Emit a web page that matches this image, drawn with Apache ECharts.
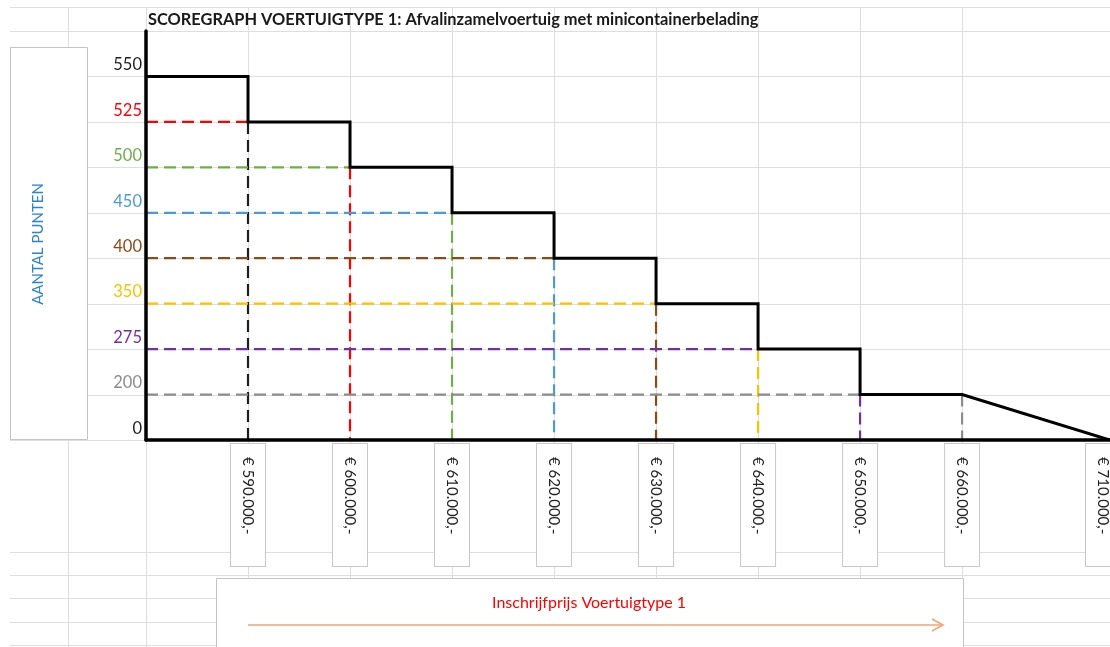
<!DOCTYPE html>
<html>
<head>
<meta charset="utf-8">
<title>Scoregraph voertuigtype 1</title>
<script src="https://cdn.jsdelivr.net/npm/echarts@6/dist/echarts.min.js"></script>
<style>
    html, body { margin: 0; padding: 0; background: #fff; }
    #main { width: 1110px; height: 647px; }
</style>
</head>
<body>
<div id="main"></div>
<script>
// inschrijfprijzen onder de x-as
var prijzen = ['€ 590.000,-', '€ 600.000,-', '€ 610.000,-', '€ 620.000,-', '€ 630.000,-',
    '€ 640.000,-', '€ 650.000,-', '€ 660.000,-', '€ 710.000,-'];
// aantal punten vanaf die prijs (na 660.000 lineair naar 0)
var puntenVanaf = [525, 500, 450, 400, 350, 275, 200, 200, 0];
var startPunten = 550;
// labels op de y-as, van onder naar boven
var puntenLabels = ['0', '200', '275', '350', '400', '450', '500', '525', '550'];

var titel = 'SCOREGRAPH VOERTUIGTYPE 1: Afvalinzamelvoertuig met minicontainerbelading';

// kleuren per puntenniveau
var kleuren = {
    '550': '#1e1e1e', '525': '#ff0000', '500': '#70ad47', '450': '#4a9ad8',
    '400': '#8e4a14', '350': '#ffc000', '275': '#7030a0', '200': '#8c8c8c', '0': '#222'
};

// de as loopt per kolom; 710.000 ligt op de rechterrand
var X_MAX = 9.45;
var kolommen = prijzen.map(function (p, i) {
    return i < prijzen.length - 1 ? i + 1 : X_MAX;
});
var yCats = puntenLabels.concat(['']);

var series = [];

// gestippelde hulplijnen
var vorige = startPunten;
puntenVanaf.forEach(function (p, i) {
    var x = kolommen[i];
    if (p > 0 && p !== vorige) {
        series.push({
            type: 'line', symbol: 'none', silent: true, z: 2,
            lineStyle: {type: [12, 6], width: 2.2, color: kleuren[p]},
            data: [[0, String(p)], [x, String(p)]]
        });
    }
    if (i < prijzen.length - 1) {
        series.push({
            type: 'line', symbol: 'none', silent: true, z: 2,
            lineStyle: {type: [12, 6], width: 2.2, color: kleuren[vorige]},
            data: [[x, String(p)], [x, '0']]
        });
    }
    vorige = p;
});

// de trap
var trap = [[0, String(startPunten)]];
vorige = startPunten;
puntenVanaf.forEach(function (p, i) {
    if (i < prijzen.length - 1) {
        trap.push([kolommen[i], String(vorige)]);
    }
    trap.push([kolommen[i], String(p)]);
    vorige = p;
});
series.push({
    type: 'line', symbol: 'none', silent: true, z: 5,
    lineStyle: {color: '#000', width: 3, join: 'miter'},
    data: trap
});

var myChart = echarts.init(document.getElementById('main'));

var option = {
    animation: false,
    backgroundColor: '#fff',
    title: {
        text: titel,
        left: 148,
        top: 12,
        padding: 0,
        textStyle: {fontFamily: 'Lato', fontWeight: 'bold', fontSize: 16.4, color: '#1a1a1a'}
    },
    grid: {left: 146, right: 0, top: 31, bottom: 207, containLabel: false, outerBoundsMode: 'none'},
    xAxis: {
        type: 'value',
        min: 0,
        max: X_MAX,
        z: 3,
        axisLine: {show: true, onZero: false, lineStyle: {color: '#000', width: 3.5}},
        axisTick: {show: false},
        splitLine: {show: false},
        axisLabel: {
            customValues: kolommen,
            rotate: -90,
            margin: 4,
            formatter: function (v) {
                var i = kolommen.indexOf(v);
                if (i < 0) return '';
                return (i === prijzen.length - 1 ? '{laatste|' : '{box|') + prijzen[i] + '}';
            },
            rich: {
                box: {
                    fontFamily: 'Lato', fontSize: 15, color: '#222',
                    width: 96, height: 34, padding: [0, 13, 0, 13],
                    backgroundColor: '#fff', borderColor: '#c8c8c8', borderWidth: 1
                },
                laatste: {
                    fontFamily: 'Lato', fontSize: 15, color: '#222',
                    width: 96, height: 34, padding: [14, 13, 0, 13],
                    backgroundColor: '#fff', borderColor: '#c8c8c8', borderWidth: 1
                }
            }
        }
    },
    yAxis: {
        type: 'category',
        data: yCats,
        boundaryGap: false,
        z: 3,
        axisLine: {show: true, lineStyle: {color: '#000', width: 3.5}},
        axisTick: {show: false},
        splitLine: {show: false},
        axisLabel: {
            interval: 0,
            margin: 4,
            fontFamily: 'Lato',
            fontSize: 16.5,
            verticalAlign: 'bottom',
            padding: [0, 0, 3, 0],
            color: function (v) {
                return kleuren[v] || '#222';
            }
        }
    },
    series: series
};

myChart.setOption(option);

// achtergrond: rasterlijnen van het werkblad
var rijY = [7];
yCats.forEach(function (c, i) {
    rijY.push(myChart.convertToPixel({yAxisIndex: 0}, i));
});
rijY = rijY.concat([552, 575, 598, 622, 645]);
var kolomX = [68];
[0].concat(kolommen.slice(0, -1)).forEach(function (k) {
    kolomX.push(myChart.convertToPixel({xAxisIndex: 0}, k));
});

var graphic = [];
rijY.forEach(function (y) {
    y = Math.round(y) + 0.5;
    graphic.push({type: 'line', z: 0, silent: true,
        shape: {x1: 10, y1: y, x2: 1110, y2: y}, style: {stroke: '#dedede', lineWidth: 1}});
});
kolomX.forEach(function (x) {
    x = Math.round(x) + 0.5;
    graphic.push({type: 'line', z: 0, silent: true,
        shape: {x1: x, y1: 7, x2: x, y2: 647}, style: {stroke: '#dedede', lineWidth: 1}});
});

// tekstvak y-as
graphic.push({type: 'rect', z: 1, silent: true,
    shape: {x: 10.5, y: 47.5, width: 77, height: 392},
    style: {fill: '#fff', stroke: '#c4c4c4', lineWidth: 1}});
graphic.push({type: 'text', z: 2, silent: true, x: 38, y: 244, rotation: Math.PI / 2,
    style: {text: 'AANTAL PUNTEN', fill: '#2e84cc', font: '15px Lato', align: 'center', verticalAlign: 'middle'}});

// tekstvak x-as met pijl
graphic.push({type: 'rect', z: 1, silent: true,
    shape: {x: 216.5, y: 578.5, width: 747, height: 90},
    style: {fill: '#fff', stroke: '#c4c4c4', lineWidth: 1}});
graphic.push({type: 'text', z: 2, silent: true, x: 589, y: 603,
    style: {text: 'Inschrijfprijs Voertuigtype 1', fill: '#ff0000', font: '16px Lato', align: 'center', verticalAlign: 'middle'}});
graphic.push({type: 'line', z: 2, silent: true,
    shape: {x1: 248, y1: 625, x2: 942, y2: 625}, style: {stroke: '#f3a46e', lineWidth: 1.6}});
graphic.push({type: 'polyline', z: 2, silent: true,
    shape: {points: [[932, 619], [943, 625], [932, 631]]}, style: {stroke: '#f3a46e', lineWidth: 1.6, fill: null}});

myChart.setOption({graphic: graphic});
</script>
</body>
</html>
